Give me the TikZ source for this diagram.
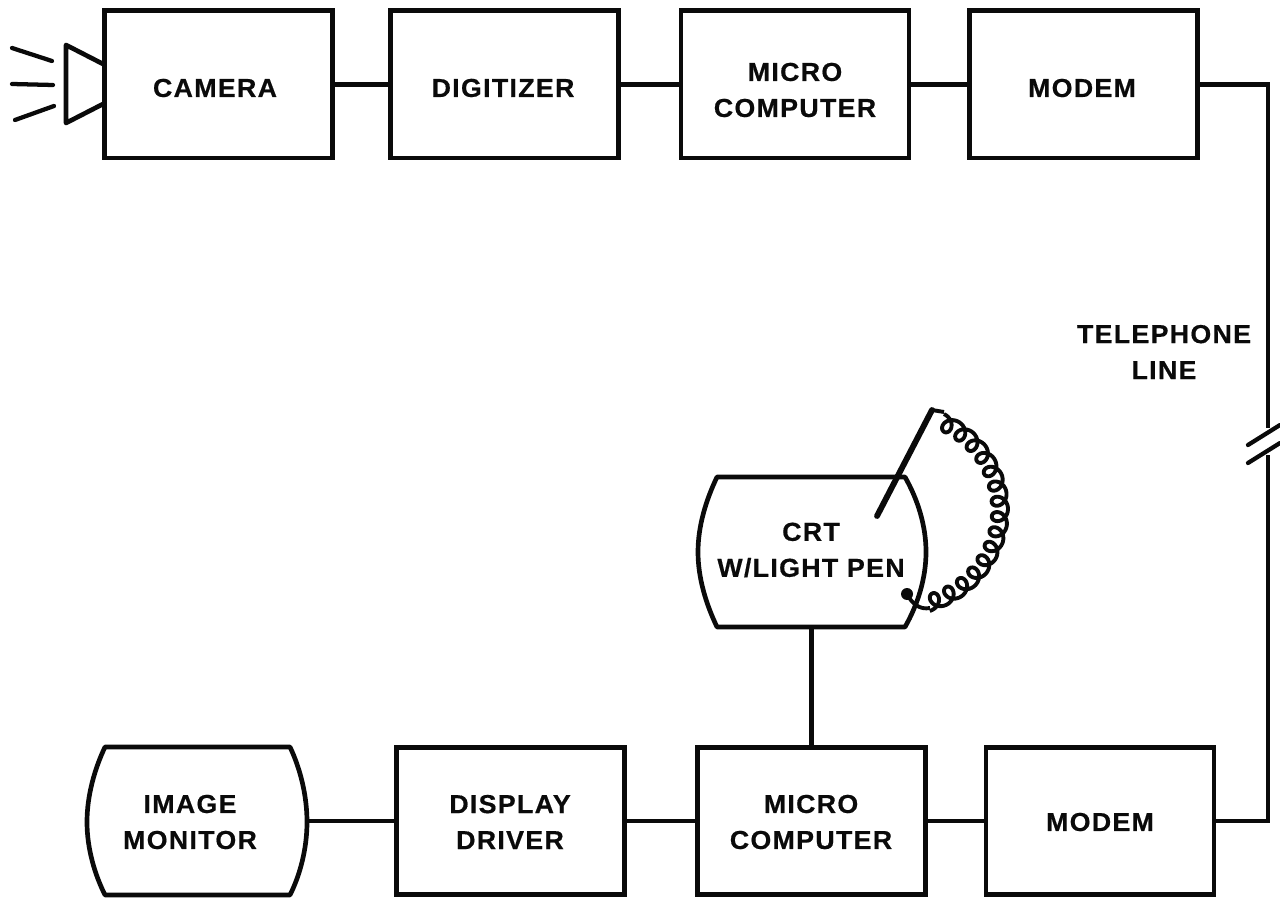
\documentclass[tikz,border=0pt]{standalone}
\usepackage{fontspec}
\setmainfont[LetterSpace=5,FakeStretch=1.03,FakeBold=0.5]{Liberation Sans Bold}
\tikzset{
  blk/.style={draw=ink,line width=3.5pt,minimum width=171pt,minimum height=110.5pt,inner sep=0pt,line join=miter},
  screen/.style={minimum height=111pt,inner sep=0pt},
  outline/.style={draw=ink,line width=3.5pt,line join=round},
  wire/.style={draw=ink,line width=3.5pt},
  thin wire/.style={draw=ink,line width=3.2pt,line cap=round},
  lbl/.style={text=ink,align=center,inner sep=0pt,font=\fontsize{19.5}{27}\selectfont},
  cord/.style={draw=ink,line width=2.9pt,line join=round},
}
\definecolor{ink}{HTML}{0A0A0A}
\begin{document}
\begin{tikzpicture}[x=0.75pt,y=-0.75pt]
\useasboundingbox (0,0) rectangle (1280,898);
% top row
\node[blk] (cam) at (218.5,84.5) {};
\node[blk] (dig) at (504.5,84.5) {};
\node[blk] (mc1) at (795,84.5) {};
\node[blk] (mod1) at (1083.5,84.5) {};
% bottom row
\node[blk] (drv) at (510.5,821) {};
\node[blk] (mc2) at (811.5,821) {};
\node[blk] (mod2) at (1100,821) {};
\node[screen,minimum width=165pt] (mon) at (197,821) {};
\node[screen,minimum width=171pt,minimum height=112.5pt] (crt) at (811.5,552) {};
% curved screens
\path[outline] (105,747) -- (290,747) .. controls (300,768) and (307,795) .. (307,822)
  .. controls (307,849) and (300,875) .. (290,895) -- (105,895)
  .. controls (95,875) and (87,849) .. (87,822) .. controls (87,795) and (95,768) .. (105,747) -- cycle;
\path[outline] (717,477) -- (905,477) .. controls (918,500) and (926,526) .. (926,552)
  .. controls (926,578) and (918,604) .. (905,627) -- (717,627)
  .. controls (706,604) and (698,578) .. (698,552) .. controls (698,526) and (706,500) .. (717,477) -- cycle;
% labels
\node[lbl] (tcam) at (215,88) {CAMERA};
\node[lbl] (tdig) at (503,88) {DIGITIZER};
\node[lbl] (tmc1) at (795,90) {MICRO\\COMPUTER};
\node[lbl] (tmod1) at (1082,88) {MODEM};
\node[lbl] (ttel) at (1164,352) {TELEPHONE\\LINE};
\node[lbl] (tcrt) at (811,550) {CRT\\W/LIGHT PEN};
\node[lbl] (tmon) at (190,822) {IMAGE\\MONITOR};
\node[lbl] (tdrv) at (510,822) {DISPLAY\\DRIVER};
\node[lbl] (tmc2) at (811,822) {MICRO\\COMPUTER};
\node[lbl] (tmod2) at (1100,822) {MODEM};
% connectors
\draw[wire] (cam.east) -- (dig.west);
\draw[wire] (dig.east) -- (mc1.west);
\draw[wire] (mc1.east) -- (mod1.west);
\draw[wire] (mon.east) -- (drv.west);
\draw[wire] (drv.east) -- (mc2.west);
\draw[wire] (mc2.east) -- (mod2.west);
\draw[wire] (crt.south) -- (mc2.north);
% telephone line with break
\coordinate (t1) at (1268,428);
\coordinate (t2) at (1268,455);
\draw[wire] (mod1.east) -| (t1);
\draw[wire] (t2) |- (mod2.east);
\coordinate (s1a) at (1248,445); \coordinate (s1b) at (1280,425);
\coordinate (s2a) at (1248,463); \coordinate (s2b) at (1280,443);
\draw[thin wire] (s1a) -- (s1b);
\draw[thin wire] (s2a) -- (s2b);
% camera lens and rays
\coordinate (l1) at (105,65); \coordinate (l2) at (66,45);
\coordinate (l3) at (66,123); \coordinate (l4) at (105,103);
\draw[outline] (l1) -- (l2) -- (l3) -- (l4);
\coordinate (r1a) at (12,48); \coordinate (r1b) at (52,61);
\coordinate (r2a) at (12,84); \coordinate (r2b) at (53,85);
\coordinate (r3a) at (15,120); \coordinate (r3b) at (54,106);
\draw[thin wire] (r1a) -- (r1b);
\draw[thin wire] (r2a) -- (r2b);
\draw[thin wire] (r3a) -- (r3b);
% light pen and coiled cord
\coordinate (pen1) at (877,516);
\coordinate (pen2) at (932,410);
\coordinate (plug) at (907,594);
\coordinate (c1) at (944,412);
\coordinate (c2) at (930,608);
\draw[draw=ink,line width=4.4pt,line cap=round] (pen1) -- (pen2);
\draw[cord] (pen2) -- (c1);
\draw[cord,smooth,samples=420,domain=0:5400,variable=\t]
  plot ({900+(100+8*cos(\t))*cos(-66+\t/38.571)-8*sin(\t)*sin(-66+\t/38.571)},
        {510+(97+8*cos(\t))*sin(-66+\t/38.571)+8*sin(\t)*cos(-66+\t/38.571)});
\draw[cord] (plug) .. controls (912,604) and (920,610) .. (c2);
\fill[ink] (plug) circle (4.5pt);
\end{tikzpicture}
\end{document}
